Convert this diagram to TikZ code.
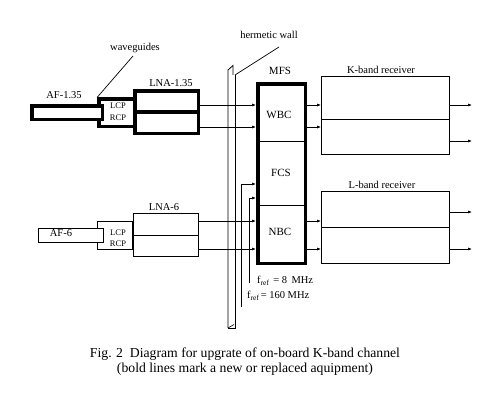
\documentclass[tikz,border=0pt]{standalone}
\usepackage{fontspec}
\setmainfont{Liberation Serif}
\usetikzlibrary{arrows.meta}
\tikzset{
  thinbox/.style={draw, line width=0.8pt, inner sep=0pt},
  boldbox/.style={draw, line width=3.5pt, inner sep=0pt},
  lbl/.style={inner sep=0pt, font=\fontsize{10.5}{12}\selectfont},
  small/.style={inner sep=0pt, font=\fontsize{8.5}{10}\selectfont},
  blk/.style={inner sep=0pt, font=\fontsize{11}{13}\selectfont},
  conn/.style={line width=0.7pt},
  arr/.style={line width=0.7pt, -{Latex[length=4pt,width=3pt]}},
}
\newcommand{\fref}{f\raisebox{-0.45ex}{\fontsize{7.5}{8}\selectfont ref}}
\begin{document}
\begin{tikzpicture}[x=1pt,y=-1pt]
\useasboundingbox (0,0) rectangle (494,412);
% upper chain (bold)
\node[boldbox, minimum width=36pt, minimum height=27.5pt] (wg1) at (117,112.75) {};
\node[boldbox, fill=white, minimum width=70.5pt, minimum height=13.5pt] (af1) at (67,112.5) {};
\node[boldbox, minimum width=63.5pt, minimum height=42.5pt] (lna1) at (166.5,112) {};
\draw[line width=3.5pt] (lna1.west) -- (lna1.east);
\node[lbl] (af1l) at (64,95) {AF-1.35};
\node[lbl] (lna1l) at (171,83) {LNA-1.35};
\node[small] (lcp1) at (118,105.5) {LCP};
\node[small] (rcp1) at (118,117.5) {RCP};
\node[lbl] (wgl) at (135,48) {waveguides};
\draw[conn] (wgl.south) ++(-2,3) coordinate (wgs) (wgs) -- (wg1.north west);
% lower chain (thin)
\node[thinbox, minimum width=35pt, minimum height=28pt] (wg2) at (115,235.5) {};
\node[thinbox, fill=white, minimum width=65pt, minimum height=14pt] (af2) at (71,235.5) {};
\node[thinbox, minimum width=65pt, minimum height=43pt] (lna2) at (166,235) {};
\draw[conn] (lna2.west) -- (lna2.east);
\node[lbl] (af2l) at (61,233) {AF-6};
\node[lbl] (lna2l) at (164,207.5) {LNA-6};
\node[small] (lcp2) at (118,233) {LCP};
\node[small] (rcp2) at (118,244) {RCP};
% hermetic wall
\coordinate (wtop) at (235,75);
\draw[line width=0.8pt] (228,328) -- (228,70) -- (233,65.5) -- (233,75);
\draw[line width=0.8pt] (235,75) -- (235,328) -- (228,328);
\draw[line width=0.6pt] (228,328) -- (234,324.5);
\node[lbl] (wall) at (269,35) {hermetic wall};
\draw[conn] (wtop) -- (279,47);
% MFS
\node[boldbox, minimum width=47.5pt, minimum height=179.5pt] (mfs) at (281.5,173.5) {};
\draw[conn] (mfs.west |- 0,141) -- (mfs.east |- 0,141);
\draw[conn] (mfs.west |- 0,205) -- (mfs.east |- 0,205);
\node[blk] (mfsl) at (280,71) {MFS};
\node[blk] (wbc) at (279,115) {WBC};
\node[blk] (fcs) at (281,173) {FCS};
\node[blk] (nbc) at (280,232) {NBC};
% receivers
\node[thinbox, minimum width=128pt, minimum height=78pt] (krx) at (385.5,115.5) {};
\draw[line width=1pt] (krx.west |- 0,119) -- (krx.east |- 0,119);
\node[lbl] (krxl) at (381,70) {K-band receiver};
\node[thinbox, minimum width=128pt, minimum height=72pt] (lrx) at (385.5,227.5) {};
\draw[line width=1pt] (lrx.west |- 0,227) -- (lrx.east |- 0,227);
\node[lbl] (lrxl) at (382,185) {L-band receiver};
% connections LNA -> MFS
\draw[arr] (lna1.east |- 0,105) -- (mfs.west |- 0,105);
\draw[arr] (lna1.east |- 0,127) -- (mfs.west |- 0,127);
\draw[arr] (lna2.east |- 0,221) -- (mfs.west |- 0,221);
\draw[arr] (lna2.east |- 0,249) -- (mfs.west |- 0,249);
% MFS -> receivers
\draw[arr] (mfs.east |- 0,105) -- (krx.west |- 0,105);
\draw[arr] (mfs.east |- 0,127) -- (krx.west |- 0,127);
\draw[arr] (mfs.east |- 0,221) -- (lrx.west |- 0,221);
\draw[arr] (mfs.east |- 0,249) -- (lrx.west |- 0,249);
% receiver outputs
\coordinate (ko1) at (472,105);
\coordinate (ko2) at (472,141);
\coordinate (lo1) at (472,212);
\coordinate (lo2) at (472,249);
\draw[arr] (krx.east |- ko1) -- (ko1);
\draw[arr] (krx.east |- ko2) -- (ko2);
\draw[arr] (lrx.east |- lo1) -- (lo1);
\draw[arr] (lrx.east |- lo2) -- (lo2);
% reference inputs
\coordinate (r8) at (249,283);
\coordinate (r160) at (241,307);
\draw[arr] (r8) -- (249,198) -- (mfs.west |- 0,198);
\draw[arr] (r160) -- (241,184) -- (mfs.west |- 0,184);
\node[lbl, anchor=west] (f8) at (257,281) {\fref{} \,= 8\, MHz};
\node[lbl, anchor=west] (f160) at (247,296) {\fref{}\,= 160 MHz};
% caption
\node[inner sep=0pt, align=center, font=\fontsize{13.7}{15}\selectfont] (cap) at (245,362)
  {Fig. 2\enspace Diagram for upgrate of on-board K-band channel\\(bold lines mark a new or replaced aquipment)};
\end{tikzpicture}
\end{document}
